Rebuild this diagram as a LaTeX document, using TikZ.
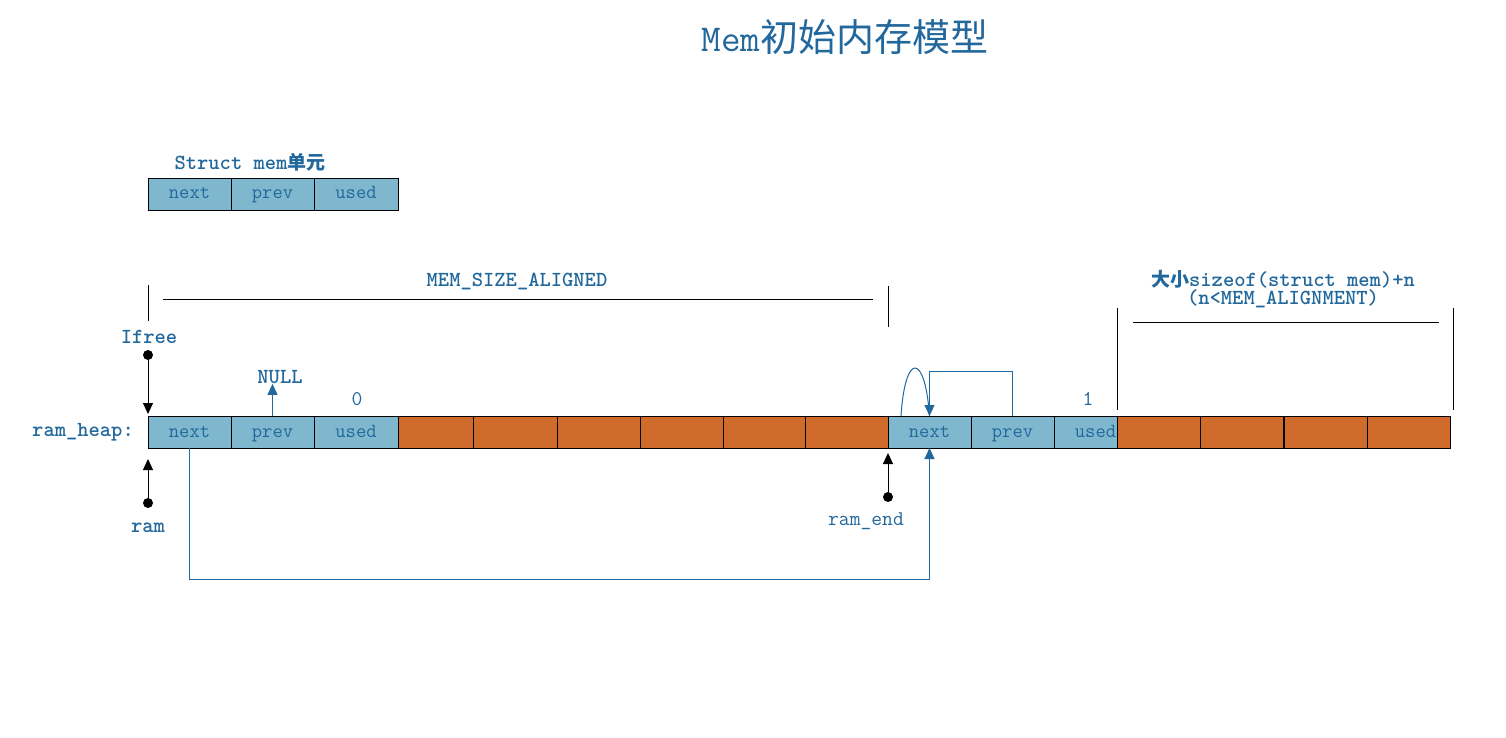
\documentclass[tikz,border=0pt]{standalone}
\usepackage{fontspec}
\newfontfamily\cjk{Noto Sans CJK SC}
\usetikzlibrary{arrows.meta, positioning, calc}
\definecolor{memblue}{RGB}{34,104,156}
\definecolor{cellblue}{RGB}{127,184,206}
\definecolor{heaporange}{RGB}{209,107,43}
\tikzset{
  cell/.style   = {draw=black, fill=cellblue, minimum height=32pt, inner sep=0pt,
                   outer sep=0pt, line width=0.9pt, text=memblue,
                   text height=13pt, text depth=3pt,
                   font=\ttfamily\fontsize{20}{22}\selectfont},
  ocell/.style  = {draw=black, fill=heaporange, minimum height=32pt, inner sep=0pt,
                   outer sep=0pt, line width=0.9pt},
  lbl/.style    = {text=memblue, inner sep=0pt, font=\ttfamily\bfseries\fontsize{21.5}{22}\selectfont},
  plain/.style  = {text=memblue, inner sep=0pt, font=\ttfamily\fontsize{21}{22}\selectfont},
  ptr/.style    = {-{Triangle[length=11pt,width=10pt]}, line width=1pt, black},
  link/.style   = {-{Triangle[length=11pt,width=10pt]}, line width=1pt, memblue},
  dot/.style    = {circle, fill=black, inner sep=0pt, minimum size=10pt},
  bound/.style  = {line width=1pt, black},
}

\begin{document}
\begin{tikzpicture}[x=1pt, y=-1pt]
\useasboundingbox (0,0) rectangle (1506,738);

% title
\node[text=memblue, inner sep=0pt, font=\ttfamily\fontsize{38}{40}\selectfont] (title) at (845,37) {Mem{\cjk 初始内存模型}};

% struct mem unit
\node[lbl] (structlbl) at (250,162) {Struct mem{\cjk\fontsize{19}{22}\selectfont 单元}};
\node[cell, minimum width=83pt, anchor=west] (snext) at (148,194) {next};
\node[cell, minimum width=83pt, right=0pt of snext] (sprev) {prev};
\node[cell, minimum width=84pt, right=0pt of sprev] (sused) {used};

% ram_heap, first mem
\node[lbl, anchor=east] (heaplbl) at (134,432) {ram\_heap:};
\node[cell, minimum width=83pt, anchor=west] (hnext) at (148,432) {next};
\node[cell, minimum width=83pt, right=0pt of hnext] (hprev) {prev};
\node[cell, minimum width=84pt, right=0pt of hprev] (hused) {used};

% heap data
\foreach \x/\w [count=\i] in {398/75, 473/84, 557/83, 640/83, 723/82, 805/83} {
    \node[ocell, minimum width=\w pt, anchor=west] (o\i) at (\x,432) {};
}

% end mem
\node[cell, minimum width=83pt, anchor=west] (nnext) at (888,432) {next};
\node[cell, minimum width=83pt, right=0pt of nnext] (nprev) {prev};
\node[cell, minimum width=63pt, right=0pt of nprev] (nused) {\hspace*{20pt}used};

% tail
\foreach \x [count=\i] in {1117, 1200, 1284, 1367} {
    \node[ocell, minimum width=83pt, anchor=west] (t\i) at (\x,432) {};
}

% used values
\node[plain] (zero) at (357,399) {0};
\node[plain] (one) at (1088,399) {1};

% MEM_SIZE_ALIGNED
\node[lbl] (sizelbl) at (517,282) {MEM\_SIZE\_ALIGNED};
\draw[bound] (148,285) -- (148,321);
\draw[bound] (888,286) -- (888,327);
\draw[bound] (163,299) -- (873,299);

% tail size
\node[lbl] (taillbl) at (1283,279) {{\cjk\fontsize{19}{22}\selectfont 大小}sizeof(struct mem)+n};
\node[lbl] (taillbl2) at (1283,299) {(n<MEM\_ALIGNMENT)};
\draw[bound] (1117,308) -- (1117,410);
\draw[bound] (1453,308) -- (1453,410);
\draw[bound] (1133,322) -- (1439,322);

% pointers
\node[lbl] (lfree) at (149,337) {Ifree};
\node[dot] (lfreedot) at (148,355) {};
\draw[ptr, shorten >=2pt] (lfreedot) -- (hnext.north west);

\node[lbl] (ramlbl) at (148,528) {ram};
\node[dot] (ramdot) at (148,503) {};
\draw[ptr, shorten >=11pt] (ramdot) -- (hnext.south west);

\node[plain] (endlbl) at (866,521) {ram\_end};
\node[dot] (enddot) at (888,497) {};
\draw[ptr, shorten >=5pt] (enddot) -- (nnext.south west);

% links
\node[lbl] (null) at (280,377) {NULL};
\draw[link] (hprev.north) -- (hprev.north |- null.south);
\draw[link] (hnext.south) -- ++(0,131) -| (nnext.south);
\draw[link] (nprev.north) -- ++(0,-45) -| (nnext.north);
\coordinate (archstart) at (901,416);
\draw[memblue, line width=1pt] (archstart) .. controls (905,352) and (925,352) .. (nnext.north);

\end{tikzpicture}
\end{document}
